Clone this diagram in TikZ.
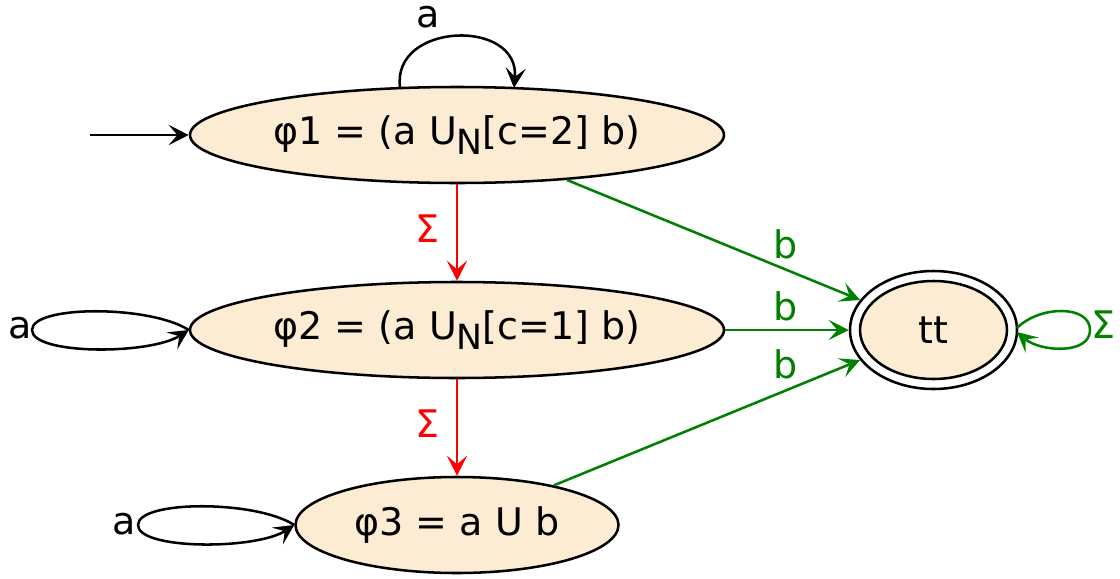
\documentclass[tikz,border=0pt]{standalone}
\usepackage{fontspec}
\setmainfont{DejaVu Sans}
\usetikzlibrary{arrows.meta,shapes.geometric}
\definecolor{nodefill}{HTML}{FDECD4}
\definecolor{egreen}{HTML}{008000}
\definecolor{ered}{HTML}{FF0000}
\begin{document}
\begin{tikzpicture}[x=0.75pt,y=-0.75pt,
  every node/.style={font=\fontsize{28.5}{32}\selectfont},
  state/.style={ellipse,draw=black,line width=1.9pt,fill=nodefill,inner sep=0pt,minimum height=72pt},
  ring/.style={ellipse,draw=black,line width=1.9pt,fill=white,inner sep=0pt},
  edge/.style={line width=1.9pt,-{Stealth[length=15pt,width=15pt,inset=6.5pt]}},
  lab/.style={anchor=base,inner sep=0pt}]
\useasboundingbox (0,0) rectangle (1120,578);
% nodes
\node[ring,minimum width=125.25pt,minimum height=88.5pt] (ttout) at (933.5,330) {};
\node[state,minimum width=110.25pt,minimum height=73.5pt] (tt) at (933.5,330) {tt};
\node[state,minimum width=400.5pt] (p1) at (457,135) {φ1 = (a U\raisebox{-0.25em}{\fontsize{26}{28}\selectfont N}[c=2] b)};
\node[state,minimum width=400.5pt] (p2) at (457,330) {φ2 = (a U\raisebox{-0.25em}{\fontsize{26}{28}\selectfont N}[c=1] b)};
\node[state,minimum width=242.25pt] (p3) at (457,525) {φ3 = a U b};
\coordinate (init) at (90,135);
% edges
\draw[edge] (init) -- (p1.west);
\draw[edge] (400,87) .. controls (392,22) and (520,18) .. (514,88);
\node[lab] (la1) at (428,27) {a};
\draw[edge] (p2.west) .. controls (150,305) and (32,305) .. (32,330) .. controls (32,355) and (150,355) .. (p2.west);
\node[lab] (la2) at (20,338) {a};
\draw[edge] (p3.west) .. controls (256,500) and (138,500) .. (138,525) .. controls (138,550) and (256,550) .. (p3.west);
\node[lab] (la3) at (124,534) {a};
\draw[edge,ered] (p1.south) -- (p2.north);
\node[lab,text=ered] (ls1) at (427,242) {Σ};
\draw[edge,ered] (p2.south) -- (p3.north);
\node[lab,text=ered] (ls2) at (427,437) {Σ};
\draw[edge,egreen] (p1) -- (ttout);
\node[lab,text=egreen] (lb1) at (786,258) {b};
\draw[edge,egreen] (p2.east) -- (ttout.west);
\node[lab,text=egreen] (lb2) at (786,320) {b};
\draw[edge,egreen] (p3) -- (ttout);
\node[lab,text=egreen] (lb3) at (786,378) {b};
\draw[edge,egreen] (1017,328) .. controls (1040,305) and (1090,305) .. (1090,330) .. controls (1090,355) and (1040,352) .. (1017,332);
\node[lab,text=egreen] (ls3) at (1103,338) {Σ};
\end{tikzpicture}
\end{document}
